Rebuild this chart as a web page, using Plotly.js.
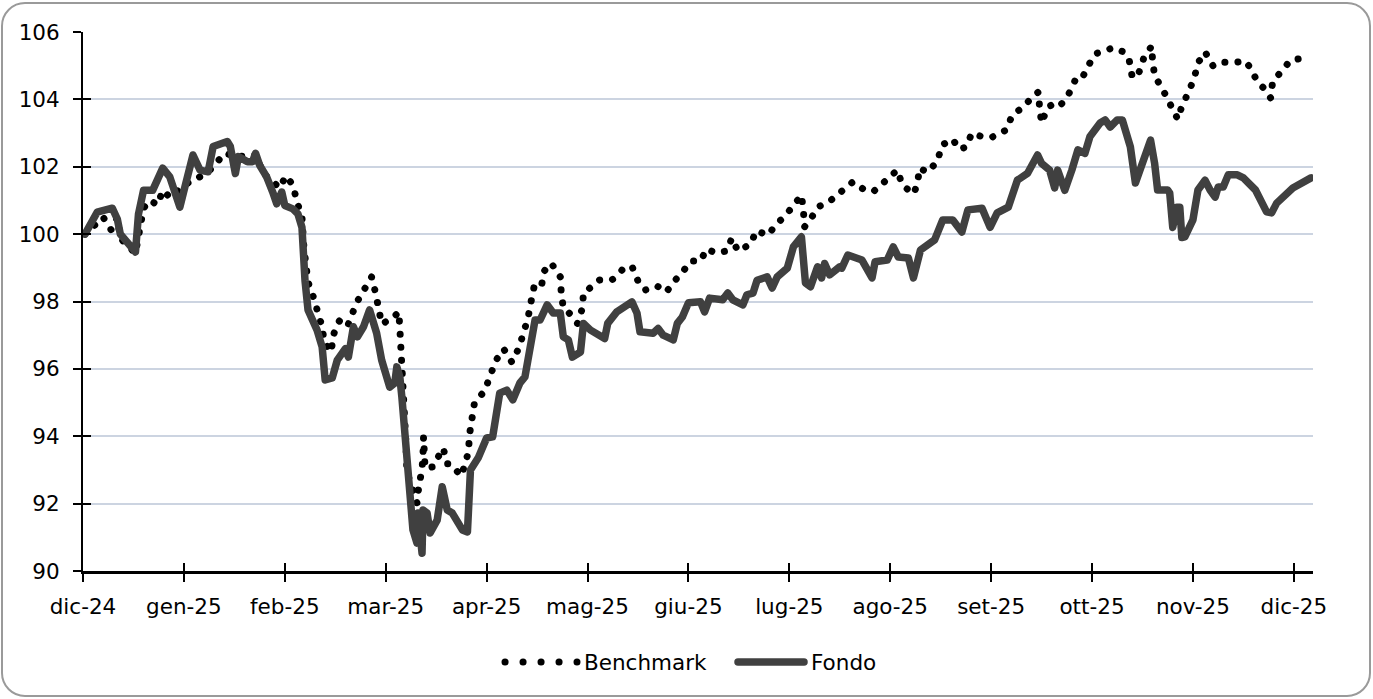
<!DOCTYPE html>
<html>
<head>
<meta charset="utf-8">
<script src="https://cdn.plot.ly/plotly-3.0.1.min.js"></script>
<style>
  html, body { margin: 0; padding: 0; background: #fff; }
  #wrap { position: relative; width: 1373px; height: 699px; }
  #chart { position: absolute; left: 0; top: 0; width: 1373px; height: 699px; }
  #frame { position: absolute; left: 1px; top: 2px; width: 1370px; height: 695px;
           box-sizing: border-box; border: 2px solid #9a9a9a; border-radius: 24px;
           pointer-events: none; }
  .js-plotly-plot .scatterlayer .js-line,
  .js-plotly-plot .shapelayer path { stroke-linecap: round !important; stroke-linejoin: round !important; }
</style>
</head>
<body>
<div id="wrap"><div id="chart"></div><div id="frame"></div></div>
<script>
// Month positions: 0 = dic-24 ... 12 = dic-25
const monthLabels = ['dic-24','gen-25','feb-25','mar-25','apr-25','mag-25','giu-25','lug-25','ago-25','set-25','ott-25','nov-25','dic-25'];
const monthTicks = [0,1,2,3,4,5,6,7,8,9,10,11,12];

const fondoX = [0.02,0.14,0.29,0.32,0.34,0.37,0.52,0.55,0.60,0.69,0.79,0.86,0.96,1.01,1.09,1.16,1.24,1.29,1.36,1.43,1.46,1.51,1.54,1.63,1.68,1.71,1.75,1.82,1.88,1.92,1.97,2.00,2.08,2.13,2.17,2.18,2.20,2.23,2.32,2.37,2.40,2.47,2.52,2.60,2.63,2.68,2.72,2.78,2.84,2.91,2.96,3.04,3.09,3.11,3.14,3.16,3.19,3.22,3.27,3.31,3.32,3.36,3.37,3.41,3.44,3.51,3.56,3.61,3.66,3.76,3.81,3.84,3.92,4.00,4.06,4.13,4.20,4.26,4.33,4.38,4.43,4.48,4.53,4.60,4.66,4.73,4.76,4.81,4.85,4.93,4.96,5.03,5.17,5.20,5.29,5.44,5.49,5.52,5.65,5.70,5.75,5.85,5.89,5.94,6.00,6.12,6.16,6.21,6.34,6.39,6.44,6.54,6.58,6.64,6.68,6.78,6.83,6.88,6.98,7.04,7.12,7.16,7.21,7.28,7.32,7.35,7.40,7.50,7.52,7.58,7.72,7.82,7.85,7.97,8.03,8.08,8.18,8.23,8.30,8.37,8.44,8.52,8.62,8.71,8.77,8.91,8.99,9.06,9.17,9.26,9.36,9.46,9.50,9.58,9.63,9.66,9.73,9.80,9.86,9.93,9.98,10.08,10.13,10.18,10.25,10.30,10.38,10.43,10.50,10.58,10.62,10.65,10.75,10.77,10.80,10.84,10.87,10.89,10.92,11.00,11.05,11.12,11.17,11.22,11.25,11.30,11.35,11.44,11.50,11.57,11.62,11.73,11.78,11.83,11.93,11.99,12.17];
const fondoY = [100.0,100.65,100.77,100.6,100.45,100.0,99.47,100.6,101.3,101.3,101.96,101.7,100.8,101.4,102.35,101.9,101.85,102.6,102.65,102.75,102.6,101.8,102.3,102.15,102.15,102.4,102.05,101.7,101.25,100.9,101.25,100.85,100.75,100.6,100.2,99.3,98.63,97.75,97.15,96.65,95.67,95.73,96.26,96.6,96.35,97.25,96.95,97.25,97.75,97.06,96.26,95.46,95.58,96.06,95.76,95.17,93.98,92.5,91.22,90.83,91.72,90.53,91.81,91.72,91.13,91.51,92.5,91.81,91.72,91.22,91.16,93.0,93.38,93.95,93.98,95.28,95.37,95.08,95.58,95.76,96.65,97.45,97.45,97.9,97.66,97.66,96.95,96.86,96.35,96.5,97.35,97.15,96.9,97.35,97.69,97.99,97.66,97.1,97.06,97.2,97.0,96.86,97.35,97.54,97.96,97.99,97.69,98.1,98.05,98.25,98.05,97.9,98.2,98.25,98.63,98.73,98.4,98.73,98.99,99.62,99.92,98.55,98.44,99.03,98.7,99.13,98.79,99.03,98.99,99.38,99.23,98.7,99.18,99.23,99.62,99.32,99.29,98.7,99.53,99.68,99.83,100.42,100.42,100.06,100.72,100.77,100.2,100.63,100.8,101.6,101.8,102.35,102.1,101.9,101.37,101.9,101.3,101.9,102.5,102.4,102.9,103.3,103.39,103.18,103.39,103.39,102.59,101.52,102.11,102.79,102.11,101.31,101.31,101.22,100.2,100.8,100.8,99.9,99.92,100.42,101.31,101.6,101.31,101.1,101.4,101.4,101.76,101.76,101.67,101.46,101.31,100.66,100.63,100.92,101.16,101.37,101.67];

const benchX = [0.02,0.14,0.20,0.28,0.34,0.37,0.52,0.60,0.66,0.74,0.79,0.86,0.96,1.04,1.14,1.24,1.32,1.40,1.54,1.66,1.73,1.77,1.95,2.01,2.08,2.12,2.17,2.19,2.22,2.23,2.28,2.33,2.37,2.39,2.46,2.48,2.54,2.62,2.65,2.71,2.79,2.86,2.90,2.93,2.96,3.07,3.13,3.14,3.15,3.155,3.16,3.17,3.19,3.20,3.21,3.26,3.31,3.33,3.36,3.37,3.375,3.39,3.47,3.54,3.57,3.61,3.64,3.75,3.82,3.83,3.85,3.88,3.98,4.04,4.09,4.17,4.25,4.32,4.37,4.41,4.44,4.47,4.54,4.57,4.64,4.73,4.74,4.76,4.81,4.90,4.95,4.96,5.00,5.12,5.24,5.27,5.35,5.44,5.50,5.57,5.69,5.78,5.88,5.93,6.02,6.12,6.18,6.27,6.38,6.43,6.49,6.62,6.67,6.79,6.87,6.94,7.04,7.12,7.14,7.15,7.23,7.28,7.41,7.52,7.63,7.76,7.84,7.92,8.01,8.07,8.12,8.23,8.27,8.29,8.37,8.47,8.51,8.62,8.68,8.75,8.81,8.92,9.01,9.15,9.21,9.32,9.41,9.47,9.48,9.50,9.56,9.62,9.68,9.76,9.83,9.89,9.95,10.03,10.12,10.21,10.32,10.37,10.40,10.46,10.51,10.59,10.60,10.62,10.70,10.77,10.81,10.85,10.88,10.95,11.01,11.05,11.12,11.20,11.28,11.42,11.52,11.57,11.64,11.73,11.77,11.79,11.88,11.97,12.13,12.17];
const benchY = [100.0,100.36,100.5,100.12,100.5,99.88,99.43,100.77,101.0,100.87,101.3,101.1,101.37,101.52,101.67,101.85,102.1,102.4,102.3,102.35,102.35,101.85,101.37,101.73,101.46,100.97,100.5,99.57,99.03,98.58,98.16,97.69,97.25,96.8,96.5,97.0,97.42,97.25,97.54,97.96,98.37,98.73,98.25,97.81,97.33,97.51,97.69,97.21,96.77,96.24,95.76,95.31,94.78,93.83,92.94,92.47,92.02,92.56,93.0,93.5,93.98,93.06,93.09,93.5,93.65,93.18,93.18,92.82,93.53,94.04,94.52,95.0,95.34,95.76,96.24,96.59,96.2,96.62,97.03,97.51,97.99,98.43,98.4,98.9,99.14,98.73,98.25,97.81,97.69,97.35,97.81,98.28,98.34,98.64,98.64,98.7,98.96,99.05,98.61,98.34,98.46,98.28,98.67,98.82,99.2,99.2,99.56,99.44,99.5,99.88,99.5,99.71,100.1,99.97,100.3,100.48,100.84,101.16,100.69,100.21,100.54,100.8,101.0,101.28,101.55,101.28,101.28,101.49,101.7,101.9,101.46,101.19,101.49,101.96,101.84,102.17,102.64,102.82,102.52,102.58,103.0,102.88,102.88,103.09,103.54,103.77,104.08,104.22,103.76,103.3,103.76,103.87,103.8,104.1,104.55,104.55,104.93,105.35,105.44,105.53,105.4,105.14,104.64,104.75,105.2,105.58,105.17,104.7,104.3,103.9,103.7,103.41,103.7,104.16,104.6,105.08,105.41,104.99,105.1,105.1,105.14,104.93,104.52,104.25,104.04,104.52,104.85,105.17,105.23,105.25];

const seriesNames = ['Benchmark', 'Fondo'];

const FONT = 'DejaVu Sans, sans-serif';
const FS = 21.5;
const AX = 83, AW = 1230, AY = 571, AH = 539; // plot area (px) for legend placement
const px2x = p => (p - AX) / AW;
const py2y = p => (AY - p) / AH;

const traces = [
  { x: benchX, y: benchY, name: seriesNames[0], type: 'scatter', mode: 'lines',
    line: { color: '#000000', width: 7, dash: '0.1px,13px' }, showlegend: false },
  { x: fondoX, y: fondoY, name: seriesNames[1], type: 'scatter', mode: 'lines',
    line: { color: '#404040', width: 7.5 }, showlegend: false },
  { x: [], y: [], xaxis: 'x2', yaxis: 'y2', type: 'scatter', showlegend: false }
];

const legY = py2y(662);
const layout = {
  width: 1373, height: 699,
  margin: { l: 83, r: 60, t: 32, b: 128 },
  paper_bgcolor: 'rgba(0,0,0,0)',
  plot_bgcolor: 'rgba(0,0,0,0)',
  font: { family: FONT, size: FS, color: '#000' },
  showlegend: false,
  xaxis: {
    range: [0, 12.19], tickvals: monthTicks, ticktext: monthLabels,
    showgrid: false, zeroline: false,
    showline: true, linecolor: '#000', linewidth: 2.5,
    ticks: 'outside', ticklen: 8, tickwidth: 2, tickcolor: '#000',
    ticklabelstandoff: 7,
    tickfont: { family: FONT, size: FS, color: '#000' }
  },
  xaxis2: {
    overlaying: 'x', anchor: 'y', side: 'bottom',
    range: [0, 12.19], tickvals: monthTicks, showticklabels: false,
    showgrid: false, zeroline: false, showline: false,
    ticks: 'inside', ticklen: 8, tickwidth: 2, tickcolor: '#000'
  },
  yaxis: {
    range: [90, 106], dtick: 2, tick0: 90,
    showgrid: true, gridcolor: '#ccd4e1', gridwidth: 2,
    zeroline: false,
    showline: true, linecolor: '#000', linewidth: 2,
    ticks: 'outside', ticklen: 8, tickwidth: 2, tickcolor: '#000',
    ticklabelstandoff: 9,
    tickfont: { family: FONT, size: FS, color: '#000' }
  },
  yaxis2: {
    overlaying: 'y', anchor: 'x', side: 'left',
    range: [90, 106], dtick: 2, tick0: 90, showticklabels: false,
    showgrid: false, zeroline: false, showline: false,
    ticks: 'inside', ticklen: 8, tickwidth: 2, tickcolor: '#000'
  },
  shapes: [
    { type: 'line', xref: 'paper', yref: 'paper', x0: px2x(505), x1: px2x(577), y0: legY, y1: legY,
      line: { color: '#000', width: 7, dash: '0.1px,17.9px' } },
    { type: 'line', xref: 'paper', yref: 'paper', x0: px2x(738), x1: px2x(804), y0: legY, y1: legY,
      line: { color: '#404040', width: 7.5 } }
  ],
  annotations: [
    { xref: 'paper', yref: 'paper', x: px2x(582), y: legY, xanchor: 'left', yanchor: 'middle',
      text: seriesNames[0], showarrow: false, font: { family: FONT, size: FS, color: '#000' } },
    { xref: 'paper', yref: 'paper', x: px2x(809), y: legY, xanchor: 'left', yanchor: 'middle',
      text: seriesNames[1], showarrow: false, font: { family: FONT, size: FS, color: '#000' } }
  ]
};

Plotly.newPlot('chart', traces, layout, { staticPlot: true, displayModeBar: false });
</script>
</body>
</html>
